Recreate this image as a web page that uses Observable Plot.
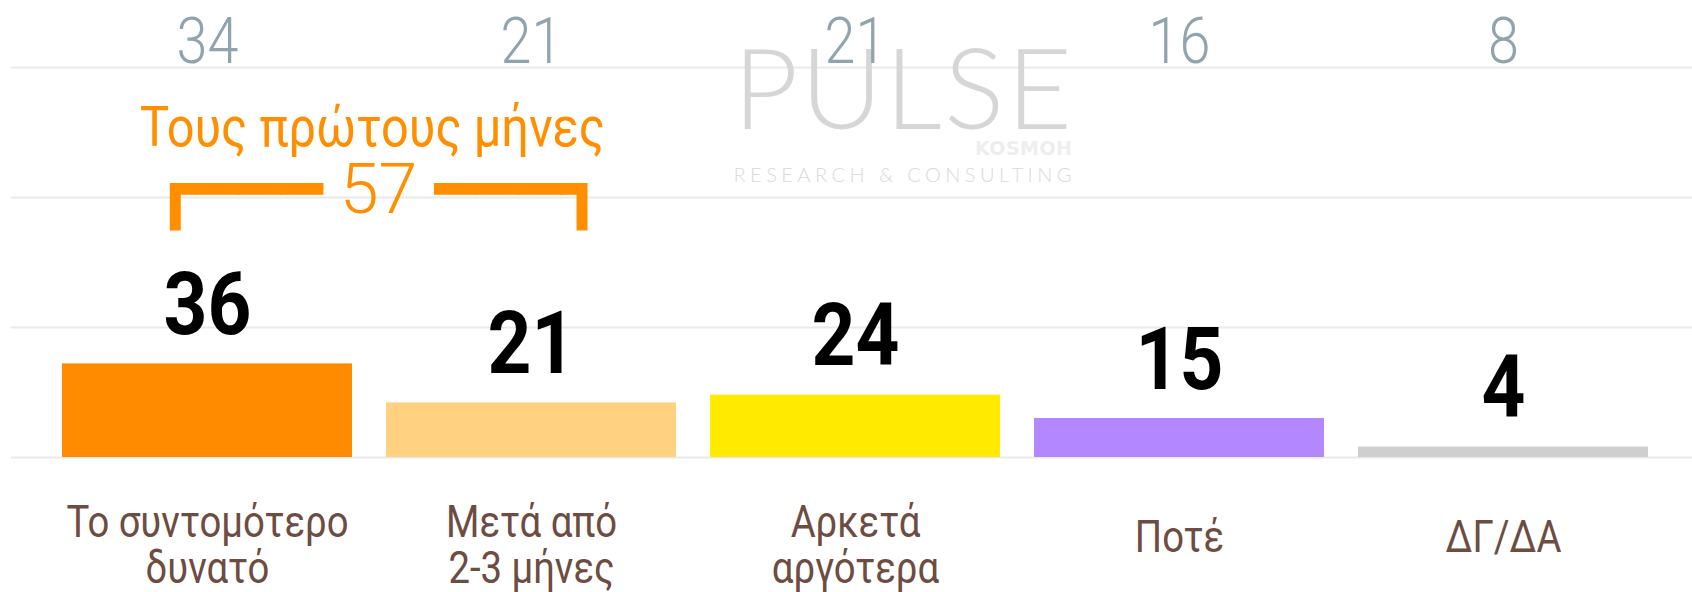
<!DOCTYPE html>
<html>
<head>
<meta charset="utf-8">
<script src="https://cdn.jsdelivr.net/npm/d3@7"></script>
<script src="https://cdn.jsdelivr.net/npm/@observablehq/plot@0.6"></script>
<style>
  html, body { margin: 0; padding: 0; background: #ffffff; }
  #chart svg { display: block; }
</style>
</head>
<body>
<div id="chart"></div>
<script>
// ---- data ----
const categories = ["Το συντομότερο\nδυνατό", "Μετά από\n2-3 μήνες", "Αρκετά\nαργότερα", "Ποτέ", "ΔΓ/ΔΑ"];
const currentValues = [36, 21, 24, 15, 4];
const previousValues = [34, 21, 21, 16, 8];
const barColors = ["#ff8c00", "#ffd180", "#ffea00", "#b388ff", "#cfcfcf"];
const gridTicks = [0, 50, 100, 150];
const annotationTitle = "Τους πρώτους μήνες";
const watermarkTitle = "PULSE";
const watermarkSub = "RESEARCH & CONSULTING";
const watermarkTag = "KOSMOH";

const rows = categories.map((c, i) => ({cat: c, value: currentValues[i], prev: previousValues[i], color: barColors[i]}));
const firstMonths = currentValues[0] + currentValues[1];

const cond = "Roboto"; // condensed via horizontal scaling below

const plot = Plot.plot({
  width: 1692,
  height: 592,
  marginTop: 67,
  marginBottom: 135,
  marginLeft: 11,
  marginRight: 0,
  style: {background: "#ffffff"},
  x: {domain: categories, paddingInner: 0.105, paddingOuter: 0.14, align: 0.54, axis: null},
  y: {domain: [0, 150], axis: null},
  color: {type: "identity"},
  marks: [
    Plot.ruleY(gridTicks, {stroke: "#e9e9e9", strokeWidth: 2}),
    // watermark
    Plot.text([watermarkTitle], {x: () => categories[2], y: () => 126.5, dx: 47, text: d => d, lineAnchor: "bottom",
      fontSize: 113, fontWeight: 300, fontFamily: "Lato", fill: "#d6d6d6"}),
    Plot.text([watermarkSub], {x: () => categories[2], y: () => 105.8, dx: 47, text: d => d, lineAnchor: "bottom",
      fontSize: 20, fontWeight: 300, fontFamily: "Lato", fill: "#d9d9d9"}),
    Plot.text([watermarkTag], {x: () => categories[2], y: () => 116.5, dx: 168, text: d => d, lineAnchor: "bottom",
      fontSize: 19, fontWeight: 900, fontFamily: "'DejaVu Sans'", fill: "#eeeeee"}),
    // bars
    Plot.barY(rows, {x: "cat", y: "value", fill: "color"}),
    // current values
    Plot.text(rows, {x: "cat", y: "value", text: d => String(d.value), lineAnchor: "bottom", dy: -30,
      fontSize: 88, fontWeight: "bold", fontFamily: cond, fill: "#000000"}),
    // previous values on top
    Plot.text(rows, {x: "cat", y: () => 150, text: d => String(d.prev), lineAnchor: "bottom", dy: -5,
      fontSize: 64, fontWeight: 300, fontFamily: cond, fill: "#90a4ae"}),
    // category labels (two-line and one-line)
    Plot.text(rows, {filter: d => d.cat.includes("\n"), x: "cat", text: "cat", frameAnchor: "bottom", lineAnchor: "middle", dy: 88,
      fontSize: 44, lineHeight: 1.045, fontFamily: cond, fill: "#6d4c41"}),
    Plot.text(rows, {filter: d => !d.cat.includes("\n"), x: "cat", text: "cat", frameAnchor: "bottom", lineAnchor: "middle", dy: 80,
      fontSize: 44, lineHeight: 1.045, fontFamily: cond, fill: "#6d4c41"}),
    // annotation
    Plot.text([annotationTitle], {x: () => categories[0], y: () => 120, dx: 165, text: d => d, lineAnchor: "bottom",
      fontSize: 56, fontFamily: cond, fill: "#ff8f00"}),
    Plot.text([firstMonths], {x: () => categories[0], y: () => 94, dx: 171, text: d => `┏━━━ ${d} ━━━┓`, lineAnchor: "bottom",
      fontSize: 70, fontWeight: 300, fontFamily: "Roboto, 'DejaVu Sans Mono', monospace", fill: "#ff8f00"})
  ]
});

const svg = d3.select(plot);
// spread the watermark texts
const byText = s => svg.selectAll("text").filter(function () { return this.textContent === s; });
byText(watermarkTitle).attr("textLength", 339).attr("lengthAdjust", "spacing");
byText(watermarkSub).attr("textLength", 338).attr("lengthAdjust", "spacing");
byText(watermarkTag).attr("textLength", 97).attr("lengthAdjust", "spacing");
// emulate a condensed face by narrowing Roboto horizontally
svg.selectAll('g[font-family="Roboto"] text').each(function () {
  const x = +this.getAttribute("x") || 0;
  const t = this.getAttribute("transform") || "";
  this.setAttribute("transform", `${t} translate(${x},0) scale(0.87,1) translate(${-x},0)`);
});

document.getElementById("chart").appendChild(plot);
</script>
</body>
</html>
